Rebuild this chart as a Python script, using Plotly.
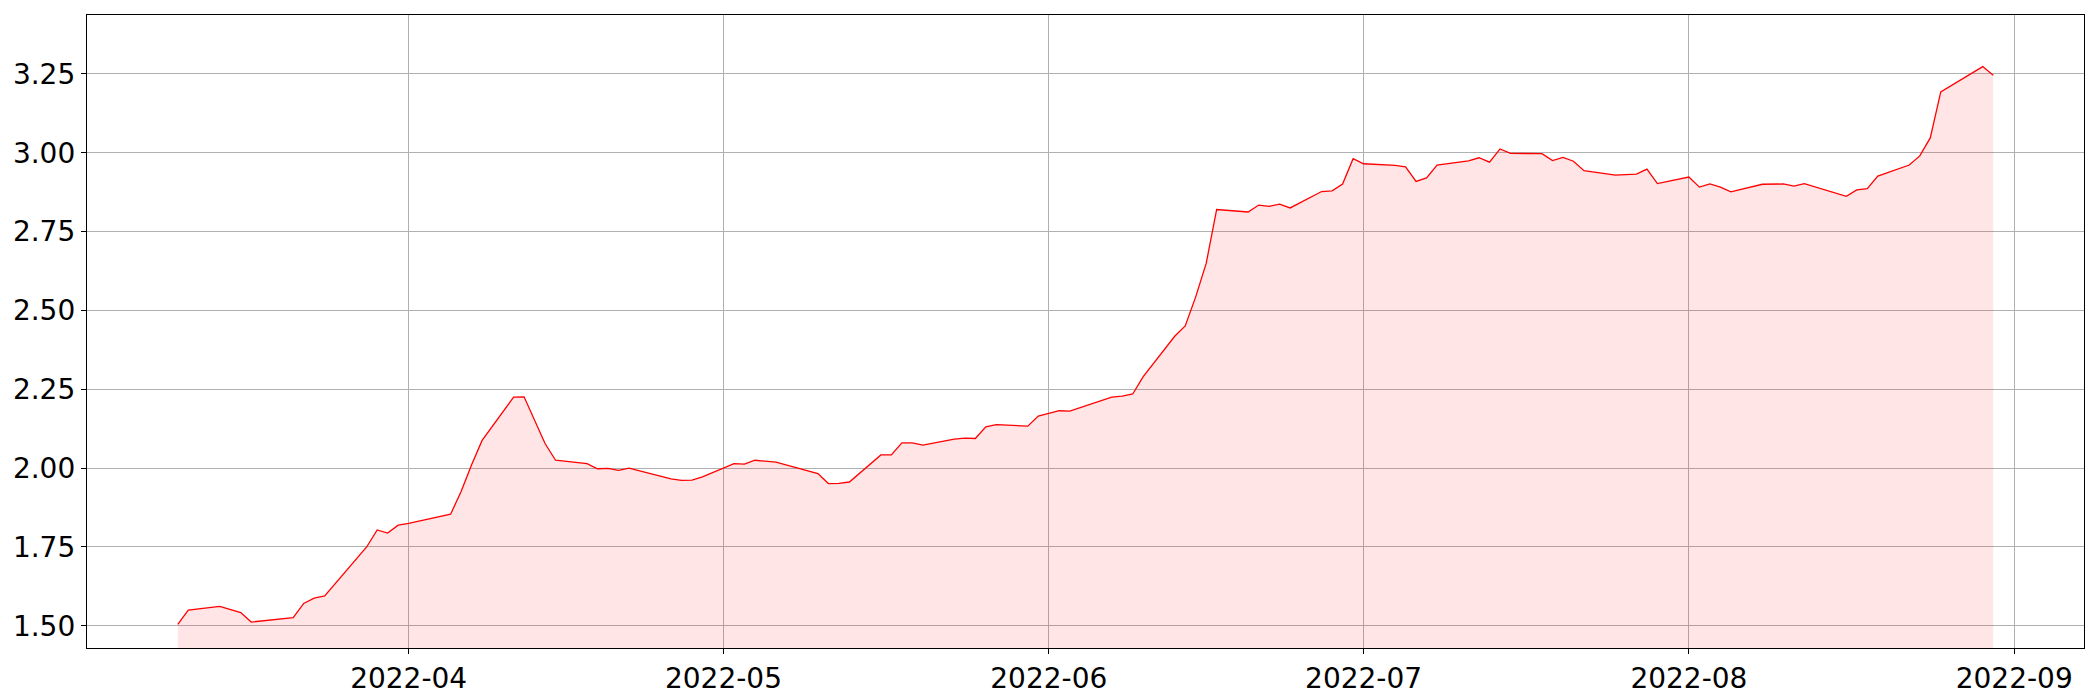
import plotly.graph_objects as go
import pandas as pd

dates = [
    "2022-03-10", "2022-03-11", "2022-03-14", "2022-03-15", "2022-03-16", "2022-03-17",
    "2022-03-21", "2022-03-22", "2022-03-23", "2022-03-24", "2022-03-28", "2022-03-29",
    "2022-03-30", "2022-03-31", "2022-04-01", "2022-04-05", "2022-04-06", "2022-04-07",
    "2022-04-08", "2022-04-11", "2022-04-12", "2022-04-14", "2022-04-15", "2022-04-18",
    "2022-04-19", "2022-04-20", "2022-04-21", "2022-04-22", "2022-04-26", "2022-04-27",
    "2022-04-28", "2022-04-29", "2022-05-02", "2022-05-03", "2022-05-04", "2022-05-06",
    "2022-05-10", "2022-05-11", "2022-05-12", "2022-05-13", "2022-05-16", "2022-05-17",
    "2022-05-18", "2022-05-19", "2022-05-20", "2022-05-23", "2022-05-24", "2022-05-25",
    "2022-05-26", "2022-05-27", "2022-05-30", "2022-05-31", "2022-06-01", "2022-06-02",
    "2022-06-03", "2022-06-07", "2022-06-08", "2022-06-09", "2022-06-10", "2022-06-13",
    "2022-06-14", "2022-06-15", "2022-06-16", "2022-06-17", "2022-06-20", "2022-06-21",
    "2022-06-22", "2022-06-23", "2022-06-24", "2022-06-27", "2022-06-28", "2022-06-29",
    "2022-06-30", "2022-07-01", "2022-07-04", "2022-07-05", "2022-07-06", "2022-07-07",
    "2022-07-08", "2022-07-11", "2022-07-12", "2022-07-13", "2022-07-14", "2022-07-15",
    "2022-07-18", "2022-07-19", "2022-07-20", "2022-07-21", "2022-07-22", "2022-07-25",
    "2022-07-27", "2022-07-28", "2022-07-29", "2022-08-01", "2022-08-02", "2022-08-03",
    "2022-08-04", "2022-08-05", "2022-08-08", "2022-08-10", "2022-08-11", "2022-08-12",
    "2022-08-16", "2022-08-17", "2022-08-18", "2022-08-19", "2022-08-22", "2022-08-23",
    "2022-08-24", "2022-08-25", "2022-08-29", "2022-08-30",
]

values = [
    1.505, 1.550, 1.562, 1.552, 1.542, 1.512,
    1.526, 1.571, 1.588, 1.595, 1.750, 1.804,
    1.794, 1.819, 1.825, 1.854, 1.926, 2.011,
    2.088, 2.225, 2.226, 2.078, 2.025, 2.014,
    1.998, 1.999, 1.993, 2.000, 1.966, 1.961,
    1.962, 1.972, 2.014, 2.013, 2.025, 2.019,
    1.983, 1.951, 1.952, 1.956, 2.042, 2.042,
    2.080, 2.080, 2.073, 2.092, 2.095, 2.094,
    2.131, 2.138, 2.133, 2.165, 2.174, 2.182,
    2.181, 2.225, 2.228, 2.235, 2.290, 2.418,
    2.451, 2.543, 2.649, 2.820, 2.812, 2.834,
    2.830, 2.837, 2.825, 2.877, 2.879, 2.901,
    2.981, 2.965, 2.960, 2.955, 2.909, 2.920,
    2.961, 2.974, 2.984, 2.970, 3.012, 2.998,
    2.997, 2.975, 2.985, 2.973, 2.943, 2.929,
    2.932, 2.948, 2.902, 2.923, 2.891, 2.901,
    2.891, 2.876, 2.900, 2.901, 2.894, 2.902,
    2.862, 2.882, 2.886, 2.926, 2.961, 2.990,
    3.047, 3.193, 3.273, 3.246,
]

y_ticks = [1.50, 1.75, 2.00, 2.25, 2.50, 2.75, 3.00, 3.25]

x = pd.to_datetime(dates)
span = x[-1] - x[0]
x_range = [x[0] - 0.05 * span, x[-1] + 0.05 * span]
y_low = min(values) * 0.95
y_high = max(values) * 1.05

FONT = "DejaVu Sans"
FS = 28

fig = go.Figure()
fig.add_trace(go.Scatter(
    x=x, y=values, mode="lines",
    line=dict(color="red", width=1.3),
    fill="tozeroy", fillcolor="rgba(255,0,0,0.1)",
    hoverinfo="x+y", showlegend=False,
))

axis_common = dict(
    showline=True, linecolor="black", linewidth=1.3, mirror=True,
    showgrid=True, gridcolor="#b0b0b0", gridwidth=1.1,
    ticks="outside", ticklen=5, tickwidth=1.1, tickcolor="black",
    zeroline=False,
    tickfont=dict(family=FONT, size=FS, color="black"),
)

fig.update_layout(
    width=2084, height=692,
    margin=dict(l=79, r=8, t=7, b=52, autoexpand=False),
    paper_bgcolor="white", plot_bgcolor="white",
    font=dict(family=FONT, size=FS, color="black"),
    xaxis=dict(
        type="date", range=x_range,
        tickformat="%Y-%m", dtick="M1", tick0="2022-04-01",
        **axis_common,
    ),
    yaxis=dict(
        range=[y_low, y_high],
        tickvals=y_ticks, ticktext=[f"{v:.2f}" for v in y_ticks],
        **axis_common,
    ),
)

fig.write_html("out.html")
